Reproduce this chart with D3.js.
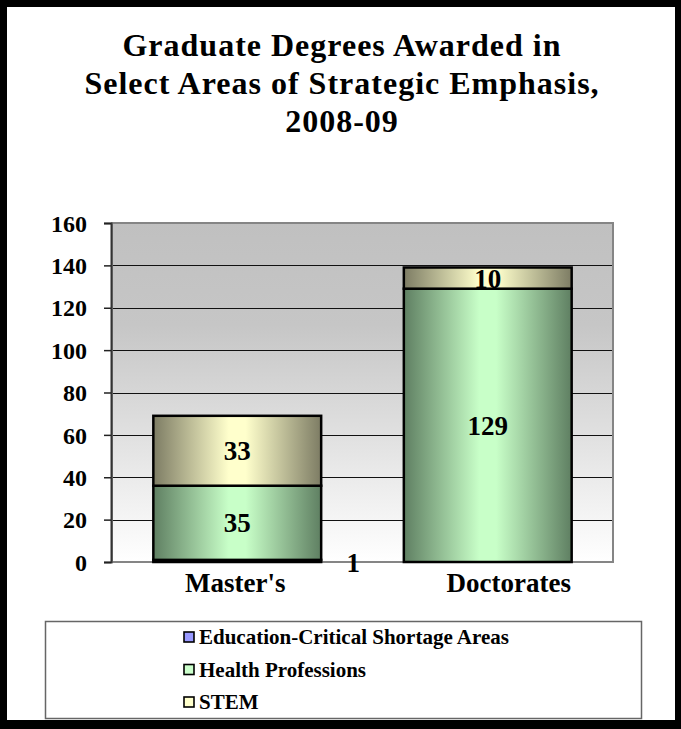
<!DOCTYPE html>
<html>
<head>
<meta charset="utf-8">
<script src="https://cdn.jsdelivr.net/npm/d3@7"></script>
<style>
  body { margin: 0; background: #fff; }
  svg text { font-family: "Liberation Serif", "Times New Roman", serif; font-weight: bold; fill: #000; }
</style>
</head>
<body>
<div id="chart"></div>
<script>
let categories = ["Master's", "Doctorates"];
let seriesNames = ["Education-Critical Shortage Areas", "Health Professions", "STEM"];
let eduValues = [1, 0];
let healthValues = [35, 129];
let stemValues = [33, 10];
let yTicks = [0, 20, 40, 60, 80, 100, 120, 140, 160];
let titleLines = ["Graduate Degrees Awarded in", "Select Areas of Strategic Emphasis,", "2008-09"];

let width = 681,
    height = 729;

let rows = categories.map((c, i) => ({
    cat: c,
    edu: eduValues[i],
    health: healthValues[i],
    stem: stemValues[i]
}));
let keys = ['edu', 'health', 'stem'];
let stacked = d3.stack().keys(keys)(rows);

// colours: [edge, centre]
let barColors = {
    edu: ['#5c5c99', '#9999ff'],
    health: ['#5f7f62', '#c8ffc8'],
    stem: ['#7d7c64', '#ffffcc']
};
let swatchColors = ['#9999ff', '#ccffcc', '#ffffcc'];

let plot = {left: 112, right: 613, top: 223, bottom: 562};

let xScale = d3.scaleBand()
    .domain(categories)
    .range([plot.left, plot.right])
    .paddingInner(0.33)
    .paddingOuter(0.165);

let yScale = d3.scaleLinear()
    .domain([0, 160])
    .range([plot.bottom, plot.top]);

let svg = d3.select('#chart').append('svg')
    .attr('width', width)
    .attr('height', height);

let defs = svg.append('defs');

let bg = defs.append('linearGradient')
    .attr('id', 'plotBg')
    .attr('x1', 0).attr('y1', 0).attr('x2', 0).attr('y2', 1);
bg.append('stop').attr('offset', '0').attr('stop-color', '#c0c0c0');
bg.append('stop').attr('offset', '0.3').attr('stop-color', '#c6c6c6');
bg.append('stop').attr('offset', '1').attr('stop-color', '#ffffff');

keys.forEach(k => {
    let g = defs.append('linearGradient')
        .attr('id', 'grad-' + k)
        .attr('x1', 0).attr('y1', 0).attr('x2', 1).attr('y2', 0);
    g.append('stop').attr('offset', '0').attr('stop-color', barColors[k][0]);
    g.append('stop').attr('offset', '0.45').attr('stop-color', barColors[k][1]);
    g.append('stop').attr('offset', '0.55').attr('stop-color', barColors[k][1]);
    g.append('stop').attr('offset', '1').attr('stop-color', barColors[k][0]);
});

// outer frame
svg.append('rect')
    .attr('width', width).attr('height', height)
    .attr('fill', '#000');
svg.append('rect')
    .attr('x', 7).attr('y', 7)
    .attr('width', 668).attr('height', 713)
    .attr('fill', '#fff');

// title
svg.append('text')
    .attr('text-anchor', 'middle')
    .style('font-size', '32px')
    .style('letter-spacing', '1px')
    .selectAll('tspan')
    .data(titleLines)
    .enter().append('tspan')
        .attr('x', 342)
        .attr('y', (d, i) => 56 + i * 38)
        .text(d => d);

// plot area
svg.append('rect')
    .attr('x', plot.left).attr('y', plot.top)
    .attr('width', plot.right - plot.left)
    .attr('height', plot.bottom - plot.top)
    .attr('fill', 'url(#plotBg)');

svg.append('g')
    .selectAll('line')
    .data(yTicks.slice(1, -1))
    .enter().append('line')
        .attr('x1', plot.left).attr('x2', plot.right)
        .attr('y1', d => Math.round(yScale(d)) + 0.5)
        .attr('y2', d => Math.round(yScale(d)) + 0.5)
        .attr('stroke', '#111')
        .attr('stroke-width', 1);

svg.append('rect')
    .attr('x', plot.left).attr('y', plot.top)
    .attr('width', plot.right - plot.left)
    .attr('height', plot.bottom - plot.top)
    .attr('fill', 'none')
    .attr('stroke', '#858585')
    .attr('stroke-width', 2);

// y axis
let yAxis = d3.axisLeft(yScale)
    .tickValues(yTicks)
    .tickSize(7)
    .tickPadding(17)
    .tickFormat(d3.format('d'));

let yg = svg.append('g')
    .attr('transform', 'translate(' + (plot.left - 1) + ',0)')
    .call(yAxis);
yg.select('.domain').attr('stroke', '#333').attr('stroke-width', 2);
yg.selectAll('.tick line').attr('stroke', '#222').attr('stroke-width', 1.5);
yg.selectAll('.tick text')
    .style('font-family', '"Liberation Serif", serif')
    .style('font-weight', 'bold')
    .style('font-size', '24px')
    .attr('fill', '#000')
    .attr('dy', '0.34em');

// bars
let layers = svg.append('g')
    .selectAll('g')
    .data(stacked)
    .enter().append('g')
        .attr('fill', d => 'url(#grad-' + d.key + ')');

layers.selectAll('rect')
    .data(d => d.filter(s => s[1] - s[0] > 0))
    .enter().append('rect')
        .attr('x', d => xScale(d.data.cat))
        .attr('width', xScale.bandwidth())
        .attr('y', d => yScale(d[1]))
        .attr('height', d => yScale(d[0]) - yScale(d[1]))
        .attr('stroke', '#000')
        .attr('stroke-width', 2.5);

// data labels
let labels = [];
stacked.forEach(layer => {
    layer.forEach(s => {
        let v = s[1] - s[0];
        if (v <= 0) return;
        let small = v < 3;
        labels.push({
            v: v,
            x: small ? xScale(s.data.cat) + xScale.bandwidth() + 32
                     : xScale(s.data.cat) + xScale.bandwidth() / 2,
            y: yScale((s[0] + s[1]) / 2) + (small ? 2 : 0)
        });
    });
});

svg.append('g')
    .selectAll('text')
    .data(labels)
    .enter().append('text')
        .attr('x', d => d.x)
        .attr('y', d => d.y)
        .attr('dy', '0.35em')
        .attr('text-anchor', 'middle')
        .style('font-size', '27px')
        .text(d => d.v);

// category labels
let catOffset = [-2, 21];
svg.append('g')
    .selectAll('text')
    .data(categories)
    .enter().append('text')
        .attr('x', (d, i) => xScale(d) + xScale.bandwidth() / 2 + catOffset[i])
        .attr('y', plot.bottom + 30)
        .attr('text-anchor', 'middle')
        .style('font-size', '27px')
        .text(d => d);

// legend
let legend = svg.append('g');
legend.append('rect')
    .attr('x', 45.5).attr('y', 621.5)
    .attr('width', 596).attr('height', 97)
    .attr('fill', '#fff')
    .attr('stroke', '#666')
    .attr('stroke-width', 1.5);

let items = legend.selectAll('g.item')
    .data(seriesNames)
    .enter().append('g')
        .attr('class', 'item')
        .attr('transform', (d, i) => 'translate(183,' + (637 + i * 32.5) + ')');

items.append('rect')
    .attr('x', 1).attr('y', -5)
    .attr('width', 10).attr('height', 10)
    .attr('fill', (d, i) => swatchColors[i])
    .attr('stroke', '#000')
    .attr('stroke-width', 1.6);

items.append('text')
    .attr('x', 16)
    .attr('dy', '0.35em')
    .style('font-size', '21px')
    .text(d => d);
</script>
</body>
</html>
